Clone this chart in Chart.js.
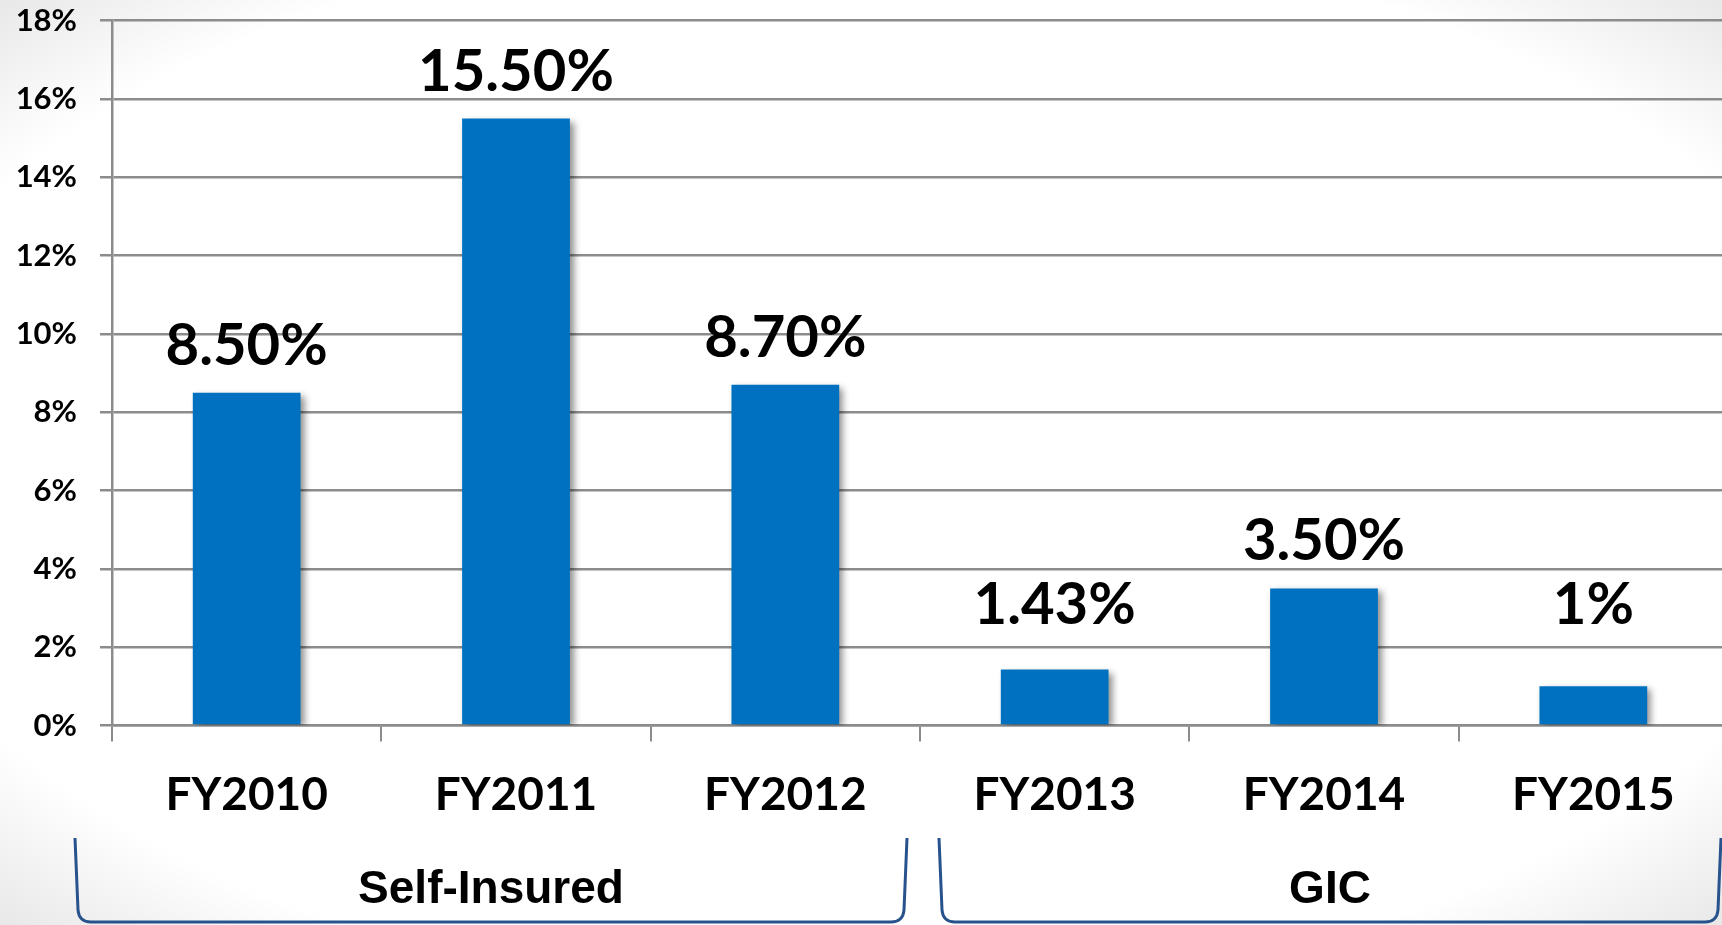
<!DOCTYPE html>
<html>
<head>
<meta charset="utf-8">
<script src="https://cdn.jsdelivr.net/npm/chart.js@4/dist/chart.umd.min.js"></script>
<style>
  html, body { margin: 0; padding: 0; overflow: hidden; width: 1722px; height: 925px; }
  body { background: radial-gradient(ellipse farthest-corner at 50% 50%, #ffffff 82%, #e8e8e8 100%); }
  #wrap { position: absolute; left: 0; top: 0; width: 1728px; height: 925px; }
</style>
</head>
<body>
<div id="wrap"><canvas id="c"></canvas></div>
<script>
const categories = ['FY2010', 'FY2011', 'FY2012', 'FY2013', 'FY2014', 'FY2015'];
const values = [8.5, 15.5, 8.7, 1.43, 3.5, 1];
const valueLabels = ['8.50%', '15.50%', '8.70%', '1.43%', '3.50%', '1%'];
const yTickValues = [0, 2, 4, 6, 8, 10, 12, 14, 16, 18];
const groupNames = ['Self-Insured', 'GIC'];
const groupStart = [0, 3];
const groupEnd = [2, 5];

const BAR_COLOR = '#0070C0';
const GRID_COLOR = '#8c8c8c';
const BRACKET_COLOR = '#27528c';
const CAL = 'Lato, "Open Sans", sans-serif';

const shadowAndLabels = {
  id: 'shadowAndLabels',
  beforeDatasetsDraw(chart) {
    const ctx = chart.ctx;
    ctx.save();
    ctx.shadowColor = 'rgba(0,0,0,0.45)';
    ctx.shadowBlur = 7;
    ctx.shadowOffsetX = 4;
    ctx.shadowOffsetY = 3;
  },
  afterDatasetsDraw(chart) {
    const ctx = chart.ctx;
    ctx.restore();
    const meta = chart.getDatasetMeta(0);
    const yScale = chart.scales.y;
    const minY = yScale.getPixelForValue(2.6);
    ctx.save();
    ctx.fillStyle = '#000';
    ctx.font = 'bold 58px ' + CAL;
    ctx.textAlign = 'center';
    ctx.textBaseline = 'alphabetic';
    meta.data.forEach((bar, i) => {
      const y = Math.min(bar.y - 28, minY);
      ctx.fillText(valueLabels[i], bar.x, y);
    });
    ctx.restore();
  },
  afterDraw(chart) {
    const ctx = chart.ctx;
    const xs = chart.scales.x;
    const n = categories.length;
    const top = 838, bottom = 922;
    ctx.save();
    ctx.strokeStyle = BRACKET_COLOR;
    ctx.lineWidth = 3;
    ctx.fillStyle = '#000';
    ctx.font = 'bold 46px "Liberation Sans", Arial, sans-serif';
    ctx.textAlign = 'center';
    ctx.textBaseline = 'alphabetic';
    groupNames.forEach((name, g) => {
      const s = groupStart[g], e = groupEnd[g];
      let xL, xR;
      if (s === 0) xL = xs.left - 37;
      else xL = (xs.getPixelForValue(s - 1) + xs.getPixelForValue(s)) / 2 + 19;
      if (e === n - 1) xR = xs.right - 7;
      else xR = (xs.getPixelForValue(e) + xs.getPixelForValue(e + 1)) / 2 - 13;
      ctx.beginPath();
      ctx.moveTo(xL, top);
      ctx.lineTo(xL + 3, bottom - 12);
      ctx.quadraticCurveTo(xL + 4, bottom, xL + 16, bottom);
      ctx.lineTo(xR - 16, bottom);
      ctx.quadraticCurveTo(xR - 4, bottom, xR - 3, bottom - 12);
      ctx.lineTo(xR, top);
      ctx.stroke();
      ctx.fillText(name, (xL + xR) / 2, 903);
    });
    ctx.restore();
  }
};

new Chart(document.getElementById('c'), {
  type: 'bar',
  data: {
    labels: categories,
    datasets: [{
      data: values,
      backgroundColor: BAR_COLOR,
      borderWidth: 0,
      barPercentage: 1,
      categoryPercentage: 0.4
    }]
  },
  plugins: [shadowAndLabels],
  options: {
    responsive: true,
    maintainAspectRatio: false,
    animation: false,
    layout: { padding: { top: 0, left: 0, right: 0, bottom: 0 } },
    plugins: { legend: { display: false }, tooltip: { enabled: false } },
    scales: {
      x: {
        offset: true,
        grid: {
          offset: true,
          drawOnChartArea: false,
          drawTicks: true,
          tickLength: 16,
          color: GRID_COLOR,
          lineWidth: 2
        },
        border: { display: true, color: GRID_COLOR, width: 2.5 },
        ticks: {
          color: '#000',
          font: { family: CAL, size: 46, weight: 'bold' },
          padding: 26,
          maxRotation: 0,
          autoSkip: false
        },
        afterFit(scale) { scale.height = 199.5; }
      },
      y: {
        min: 0,
        max: 18,
        afterBuildTicks(scale) { scale.ticks = yTickValues.map(v => ({ value: v })); },
        grid: {
          color: GRID_COLOR,
          lineWidth: 2.5,
          drawTicks: true,
          tickLength: 12
        },
        border: { display: true, color: GRID_COLOR, width: 2.5 },
        ticks: {
          color: '#000',
          font: { family: CAL, size: 31, weight: 'bold' },
          padding: 23,
          callback: v => v + '%'
        },
        afterFit(scale) {
          scale.width = 112;
          scale.paddingTop = 20.7;
          scale.paddingBottom = 0;
        }
      }
    }
  }
});
</script>
</body>
</html>
